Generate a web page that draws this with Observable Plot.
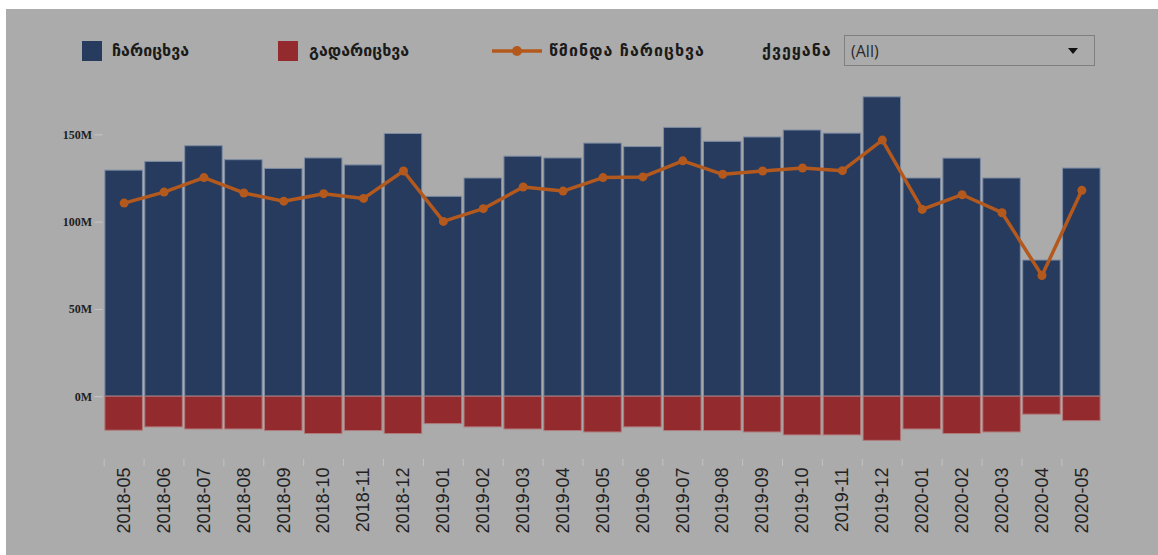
<!DOCTYPE html>
<html><head><meta charset="utf-8">
<script src="https://cdn.jsdelivr.net/npm/d3@7"></script>
<script src="https://cdn.jsdelivr.net/npm/@observablehq/plot@0.6"></script>
<style>
html,body{margin:0;padding:0;width:1158px;height:555px;background:#fff;overflow:hidden;position:relative}
#bg{position:absolute;left:6px;top:9px;width:1152px;height:546px;background:#ababab}
#chart{position:absolute;left:0;top:0}
.leg{position:absolute;font-family:"DejaVu Sans",sans-serif;font-weight:bold;font-size:16px;color:#1b1b1b;line-height:20px;top:41px;white-space:nowrap}
.sw{position:absolute;width:20px;height:20px;top:41px}
#dd{position:absolute;left:844px;top:35px;width:251px;height:31px;border:1px solid #7f7f7f;box-sizing:border-box}
#dd span{position:absolute;left:6px;top:4px;font-family:"Open Sans",sans-serif;font-size:16px;color:#2a2a2a}
#dd i{position:absolute;right:16px;top:12px;width:0;height:0;border-left:5px solid transparent;border-right:5px solid transparent;border-top:6px solid #111}
</style></head>
<body>
<div id="bg"></div>
<div id="chart"></div>
<div class="sw" style="left:82px;background:#263b5e"></div>
<div class="leg" style="left:112px">ჩარიცხვა</div>
<div class="sw" style="left:278px;background:#922a2e"></div>
<div class="leg" style="left:309px">გადარიცხვა</div>
<svg style="position:absolute;left:490px;top:41px" width="54" height="20"><line x1="2" x2="52" y1="10" y2="10" stroke="#b4591d" stroke-width="3.5"/><circle cx="27" cy="10" r="5" fill="#b4591d"/></svg>
<div class="leg" style="left:549px;letter-spacing:1px">წმინდა ჩარიცხვა</div>
<div class="leg" style="left:762px;letter-spacing:1px">ქვეყანა</div>
<div id="dd"><span>(All)</span><i></i></div>
<script>
const months = ["2018-05","2018-06","2018-07","2018-08","2018-09","2018-10","2018-11","2018-12","2019-01","2019-02","2019-03","2019-04","2019-05","2019-06","2019-07","2019-08","2019-09","2019-10","2019-11","2019-12","2020-01","2020-02","2020-03","2020-04","2020-05"];
const inflow = [129.5,134.5,143.5,135.5,130.5,136.5,132.5,150.5,114.5,125,137.5,136.5,145,143,154,146,148.5,152.5,150.7,171.5,125,136.4,125,78,130.7];
const outflow = [-19.5,-17.6,-18.8,-18.8,-19.7,-21.4,-19.7,-21.4,-15.7,-17.6,-18.8,-19.7,-20.5,-17.6,-19.7,-19.7,-20.5,-22.2,-22.2,-25.3,-18.8,-21.4,-20.5,-10.3,-14];
const net = [110.9,117.2,125.5,116.7,112,116.3,113.6,129.3,100.4,107.7,120.1,117.8,125.5,125.9,135.1,127.4,129.3,131,129.5,147,107.3,115.7,105.4,69.4,118.2];
const yTicks = [0,50,100,150];
const yDomain = [-36,180];

const rows = months.map((m,i)=>({month:m, inflow:inflow[i], outflow:outflow[i], net:net[i]}));

const plot = Plot.plot({
  width:1158, height:555,
  marginLeft:102.5, marginRight:55.5, marginTop:82, marginBottom:96,
  style:{background:"transparent", overflow:"visible"},
  x:{domain:months, padding:0.06, round:false, label:null},
  y:{domain:yDomain, label:null},
  marks:[
    Plot.barY(rows,{x:"month", y:"inflow", fill:"#263b5e", stroke:"#7d8ca3", strokeWidth:1}),
    Plot.barY(rows,{x:"month", y:"outflow", fill:"#922a2e", stroke:"#b07a7a", strokeWidth:1}),
    Plot.line(rows,{x:"month", y:"net", stroke:"#b4591d", strokeWidth:3.5}),
    Plot.dot(rows,{x:"month", y:"net", r:4.5, fill:"#b4591d"}),
    Plot.axisY({ticks:yTicks, tickFormat:d=>d+"M", tickSize:8, tickPadding:3, stroke:"#c6c6c6", fill:"#1e1e1e", fontFamily:"'Liberation Serif', serif", fontWeight:"bold", fontSize:12, label:null}),
    Plot.axisX({tickSize:7, fill:"none", stroke:"#c2c2c2", dx:-20, label:null}),
    Plot.axisX({tickSize:0, tickPadding:8, tickRotate:-90, fill:"#222", fontFamily:"'Liberation Sans', Arial, sans-serif", fontSize:18, label:null})
  ]
});
document.getElementById("chart").appendChild(plot);
</script>
</body></html>
